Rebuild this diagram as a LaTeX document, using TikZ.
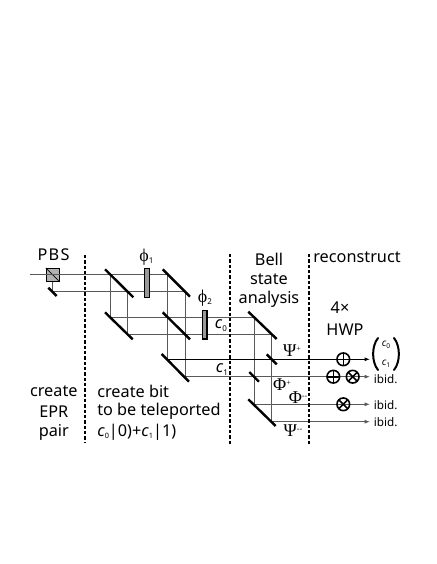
\documentclass[tikz,border=0pt]{standalone}
\usepackage{fontspec}
\setmainfont{Noto Sans}
\newfontfamily\serifgr{Liberation Serif}
\newfontfamily\dejavu{DejaVu Sans}
\usetikzlibrary{arrows.meta}
\tikzset{
  x=0.75pt,y=-0.75pt,
  beam/.style={line width=0.75pt,draw=black!65},
  beamarrow/.style={beam,-{Latex[length=4pt,width=3pt]}},
  mirrorbar/.style={line width=1.8pt,draw=black},
  divider/.style={line width=1.4pt,draw=black,dash pattern=on 2.4pt off 1.6pt},
  plate/.style={draw=black,line width=0.9pt,fill=black!40,minimum width=3.6pt,minimum height=21.5pt,inner sep=0pt},
  lab/.style={inner sep=0pt,font=\fontsize{12.2}{14}\selectfont,align=center},
  small/.style={inner sep=0pt,font=\fontsize{8.8}{10}\selectfont},
  gr/.style={inner sep=0pt,font=\serifgr\fontsize{13.5}{14}\selectfont},
  opcirc/.style={circle,draw=black,line width=1.2pt,minimum size=9.5pt,inner sep=0pt,fill=none},
  ketbar/.style={line width=1.5pt,draw=black,line cap=round}
}
\begin{document}
\begin{tikzpicture}
\useasboundingbox (0,0) rectangle (436,564);
% beam junctions
\coordinate (in) at (30,274.3);
\coordinate (pbsc) at (52.7,274.3);
\coordinate (pbsd) at (52.7,291.7);
\coordinate (m1a) at (110.7,274.3);
\coordinate (m1b) at (127.7,291.7);
\coordinate (m2a) at (167.7,274.3);
\coordinate (m2b) at (185,291.7);
\coordinate (m3a) at (110.7,317.3);
\coordinate (m3b) at (127.7,334.3);
\coordinate (m5a) at (167.7,359.3);
\coordinate (m5b) at (185,376.7);
\coordinate (m6a) at (254,317.3);
\coordinate (m6b) at (271.7,334.3);
\coordinate (m7a) at (254,404.3);
\coordinate (m7b) at (271.7,421.7);
\coordinate (e1) at (370,359.3);
\coordinate (e2) at (370,376.7);
\coordinate (e3) at (370,404.3);
\coordinate (e4) at (370,421.7);
% beams
\draw[beam] (in) -- (m2a) -- (m5a);
\draw[beam] (pbsc) -- (pbsd) -- (m2b) -- (m5b);
\draw[beam] (m1a) -- (m3a) -- (m6a) -- (m7a);
\draw[beam] (m1b) -- (m3b) -- (m6b) -- (m7b);
\draw[beamarrow,draw=black] (m5a) -- (e1);
\draw[beamarrow] (m5b) -- (e2);
\draw[beamarrow] (m7a) -- (e3);
\draw[beamarrow] (m7b) -- (e4);
% PBS
\node[draw=black,line width=0.9pt,fill=black!30,minimum size=9.6pt,inner sep=0pt] (pbs) at (52.7,274.8) {};
\draw[line width=0.6pt] (pbs.north west) -- (pbs.south east);
\draw[beam] (pbs.west) -- (pbs.east);
% mirrors
\draw[mirrorbar] (48.3,287.7) -- (56.7,296);
\draw[mirrorbar] (105,269.3) -- (133.3,297.3);
\draw[mirrorbar] (162.7,269.3) -- (190,296.7);
\draw[mirrorbar] (105,312.3) -- (132.7,339.3);
\draw[mirrorbar] (162.7,312.3) -- (190,339.3);
\draw[mirrorbar] (161.7,354) -- (189,381.7);
\draw[mirrorbar] (248.3,311.7) -- (276.7,339);
\draw[mirrorbar] (248.3,399.3) -- (275.7,426);
\draw[mirrorbar] (266.7,354.3) -- (276.7,364.3);
\draw[mirrorbar] (249.3,372) -- (259,381.7);
% plates
\node[plate] (p1) at (146.8,282.8) {};
\node[plate] (p2) at (204.5,324.7) {};
% dividers
\draw[divider] (85.3,255) -- (85.3,443);
\draw[divider] (230,254) -- (230,445);
\draw[divider] (309.3,254) -- (309.3,445);
% operators
\foreach \n/\px/\py/\a in {o1/343.3/359.3/0,o2/333.3/376.7/0,o3/352.7/376.7/45,o4/343.3/404.3/45}{
  \node[opcirc] (\n) at (\px,\py) {};
  \draw[line width=1.2pt,rotate around={\a:(\n)}] ([xshift=-4.7pt]\n.center) -- ([xshift=4.7pt]\n.center);
  \draw[line width=1.2pt,rotate around={\a:(\n)}] ([yshift=-4.7pt]\n.center) -- ([yshift=4.7pt]\n.center);
}
% text
\node[lab,font=\fontsize{12.2}{14}\selectfont\addfontfeature{LetterSpace=8}] (tpbs) at (53.5,255) {PBS};
\node[lab] (t1a) at (53.8,391) {create};
\node[lab] (t1b) at (53.8,411.5) {EPR};
\node[lab] (t1c) at (53.8,432) {pair};
\node[lab,anchor=west] (t2a) at (97,391) {create bit};
\node[lab,anchor=west] (t2b) at (97,411.5) {to be teleported};
\node[lab,anchor=west] (t2c) at (97,432) {\textit{c}\raisebox{-0.3ex}{\fontsize{5.5}{6}\selectfont 0}|0)+\textit{c}\raisebox{-0.3ex}{\fontsize{5.5}{6}\selectfont 1}|1)};
\node[lab] (t3a) at (269,259) {Bell};
\node[lab] (t3b) at (269,279) {state};
\node[lab] (t3c) at (269,299) {analysis};
\node[lab] (t4) at (357,257) {reconstruct};
\node[lab] (t5) at (340,308) {4×};
\node[lab] (t6) at (345,330) {HWP};
\node[gr] (phi1) at (146.5,257) {ϕ\raisebox{-0.3ex}{\fontsize{6}{7}\selectfont\rmfamily 1}};
\node[gr] (phi2) at (205,298) {ϕ\raisebox{-0.3ex}{\fontsize{6}{7}\selectfont\rmfamily 2}};
\node[lab] (c0) at (221,325.5) {\textit{c}\raisebox{-0.3ex}{\fontsize{6}{7}\selectfont 0}};
\node[lab] (c1) at (222,369.5) {\textit{c}\raisebox{-0.3ex}{\fontsize{6}{7}\selectfont 1}};
\node[gr] (s1) at (292,351) {Ψ\raisebox{0.7ex}{\fontsize{6}{7}\selectfont +}};
\node[gr] (s2) at (282,385) {Φ\raisebox{0.7ex}{\fontsize{6}{7}\selectfont +}};
\node[gr] (s3) at (298,398) {Φ\raisebox{0.7ex}{\fontsize{6}{7}\selectfont --}};
\node[gr] (s4) at (293,431) {Ψ\raisebox{0.7ex}{\fontsize{6}{7}\selectfont --}};
\node[small,anchor=west] (i1) at (373.5,379) {ibid.};
\node[small,anchor=west] (i2) at (373.5,405) {ibid.};
\node[small,anchor=west] (i3) at (373.5,422.5) {ibid.};
% state vector
\node[inner sep=0pt,font=\fontsize{7.5}{8}\selectfont] (k0) at (386,345) {\textit{c}\raisebox{-0.3ex}{\fontsize{5}{5}\selectfont 0}};
\node[inner sep=0pt,font=\fontsize{7.5}{8}\selectfont] (k1) at (386,364) {\textit{c}\raisebox{-0.3ex}{\fontsize{5}{5}\selectfont 1}};
\coordinate (kl1) at (378,338);
\coordinate (kl2) at (378,370);
\coordinate (kr1) at (394,338);
\coordinate (kr2) at (394,370);
\draw[ketbar] (kl1) .. controls (371.5,346) and (371.5,362) .. (kl2);
\draw[ketbar] (kr1) .. controls (400.5,346) and (400.5,362) .. (kr2);
\end{tikzpicture}
\end{document}
